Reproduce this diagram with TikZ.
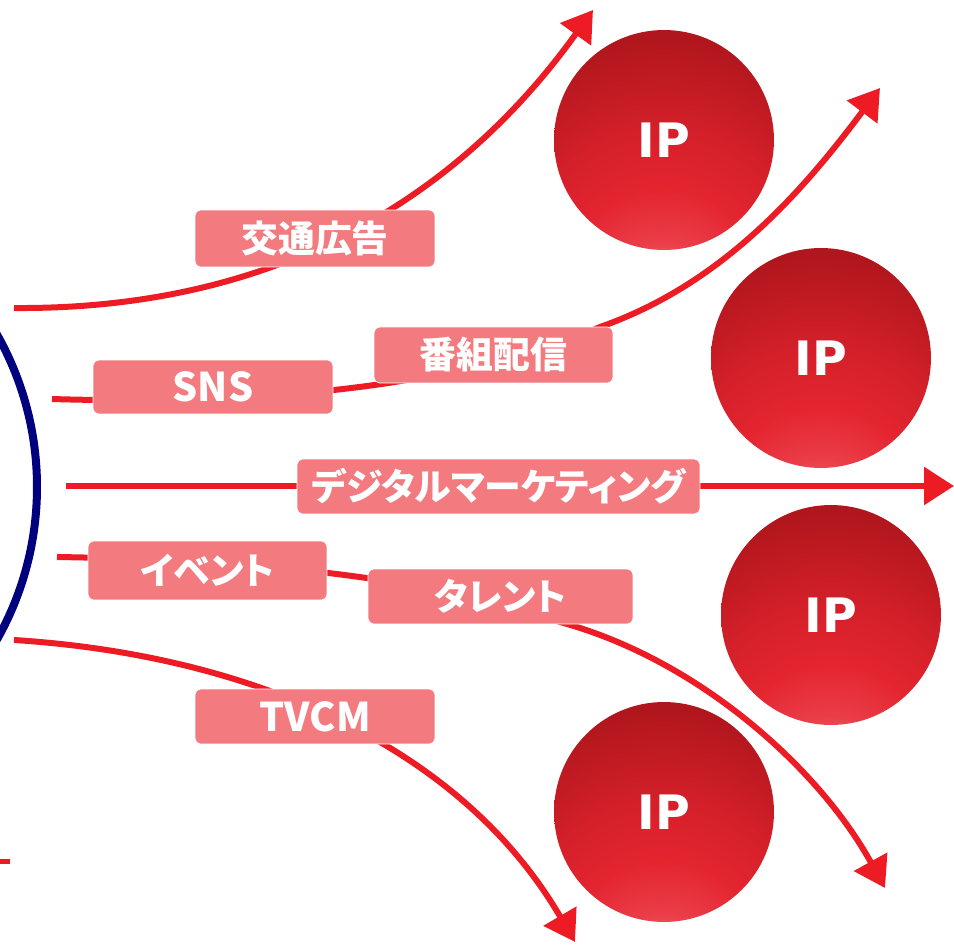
\documentclass[tikz,border=0pt]{standalone}
\usepackage{fontspec}
\newfontfamily\jpfont{Noto Sans CJK JP}[RawFeature={+palt}]
\newfontfamily\ipfont{DejaVu Sans}
\usetikzlibrary{arrows.meta}
\definecolor{navyarc}{HTML}{00007F}
\definecolor{redline}{HTML}{ED1C24}
\definecolor{lblfill}{HTML}{F37A7E}
\definecolor{ipc0}{HTML}{F5939B}
\definecolor{ipc1}{HTML}{F07A85}
\definecolor{ipc2}{HTML}{EA3D48}
\definecolor{ipc3}{HTML}{E42530}
\definecolor{ipc4}{HTML}{D4202A}
\definecolor{ipc5}{HTML}{BC1920}
\definecolor{ipc6}{HTML}{A3131A}
\pgfdeclarelayer{bg}
\pgfsetlayers{bg,main}
\pgfdeclareradialshading{ipball}{\pgfpoint{0bp}{-45bp}}{color(0bp)=(ipc0); color(7bp)=(ipc1); color(15bp)=(ipc2); color(23bp)=(ipc3); color(32bp)=(ipc4); color(42bp)=(ipc5); color(52bp)=(ipc6); color(95bp)=(ipc6)}
\tikzset{
  redln/.style={draw=redline, line width=0.12cm},
  arrowed/.style={-{Triangle[length=0.6cm,width=0.74cm]}},
  lbl/.style={fill=lblfill, draw=white, line width=0.4pt, rounded corners=0.11cm, text=white,
    font=\jpfont\bfseries\fontsize{21pt}{24pt}\selectfont, inner sep=0pt, align=center},
  latinlbl/.style={font=\jpfont\bfseries\fontsize{22.5pt}{24pt}\selectfont},
  ipball/.style={circle, shading=ipball, minimum size=4.4cm, inner sep=0pt, text=white,
    font=\ipfont\bfseries\fontsize{27pt}{30pt}\selectfont},
}
\begin{document}
\begin{tikzpicture}[x=0.02cm,y=-0.02cm]
\useasboundingbox (0,0) rectangle (954,946);
\begin{scope}
  \clip (0,0) rectangle (954,946);
  \draw[navyarc, line width=0.16cm] (-273,487) circle[radius=310];
\end{scope}

% IP balls
\node[ipball] (ip1) at (664,140) {IP};
\node[ipball] (ip2) at (821,358) {IP};
\node[ipball] (ip3) at (831,615) {IP};
\node[ipball] (ip4) at (664,812) {IP};

% labels
\node[lbl, minimum width=4.8cm, minimum height=1.14cm] (kotsu) at (315,238.5) {交通広告};
\node[lbl, latinlbl, minimum width=4.8cm, minimum height=1.08cm] (sns) at (213,387) {SNS};
\node[lbl, minimum width=4.78cm, minimum height=1.12cm] (bangumi) at (493.5,355) {番組配信};
\node[lbl, minimum width=8.06cm, minimum height=1.1cm] (digital) at (498.5,486.5) {デジタルマーケティング};
\node[lbl, minimum width=4.78cm, minimum height=1.18cm] (event) at (207.5,570.5) {イベント};
\node[lbl, minimum width=5.3cm, minimum height=1.1cm] (talent) at (500.5,596.5) {タレント};
\node[lbl, latinlbl, minimum width=4.8cm, minimum height=1.1cm] (tvcm) at (315,716.5) {TVCM};

% connector end points
\coordinate (s1) at (14,308);
\coordinate (e1) at (593,10);
\coordinate (s2) at (52,399);
\coordinate (m2) at (600,327);
\coordinate (e2) at (880,88);
\coordinate (s3) at (66,486);
\coordinate (e3) at (954,486);
\coordinate (s4) at (57,557);
\coordinate (m4) at (560,622);
\coordinate (e4) at (885,888);
\coordinate (s5) at (14,640);
\coordinate (e5) at (575,942);
\coordinate (s6) at (0,861);
\coordinate (e6) at (10,861);

\begin{pgfonlayer}{bg}
  \draw[redln, arrowed] (s1) .. controls (280,310) and (460,195) .. (e1);
  \draw[redln, arrowed] (s2) .. controls (250,405) and (450,390) .. (m2)
                             .. controls (720,285) and (800,195) .. (e2);
  \draw[redln, arrowed] (s3) -- (e3);
  \draw[redln, arrowed] (s4) .. controls (250,560) and (420,575) .. (m4)
                             .. controls (700,660) and (820,770) .. (e4);
  \draw[redln, arrowed] (s5) .. controls (250,655) and (460,745) .. (e5);
  \draw[draw=redline, line width=0.1cm] (s6) -- (e6);
\end{pgfonlayer}
\end{tikzpicture}
\end{document}
